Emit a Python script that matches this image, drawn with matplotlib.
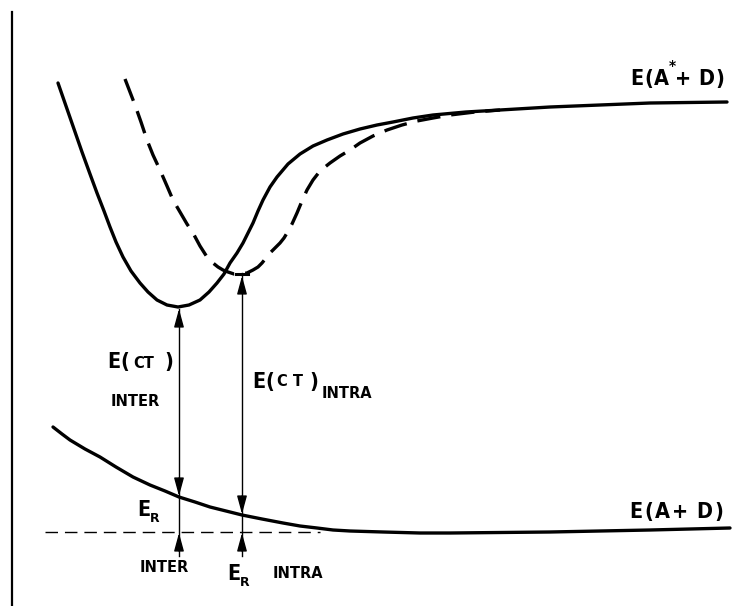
import matplotlib
matplotlib.use("Agg")
import matplotlib.pyplot as plt

# curves (x, y in image pixels, y downwards)
excited_x = [58, 66, 74, 82, 90, 97, 104, 110, 116, 123, 131, 140, 148, 157, 167, 178, 189, 200, 209, 217, 224, 230, 237, 243, 248, 253, 258, 263, 270, 277, 288, 300, 313, 327, 343, 360, 377, 393, 413, 433, 466, 500, 550, 600, 650, 727]
excited_y = [83, 106, 129, 152, 174, 193, 211, 227, 242, 257, 271, 283, 292, 300, 305, 307, 305, 300, 292, 283, 274, 263, 253, 243, 233, 223, 211, 200, 187, 177, 164, 154, 146, 140, 134, 129, 125, 122, 118, 115, 112, 110, 107, 105, 103, 102]

intra_x = [125, 130, 135, 141, 147, 153, 160, 167, 173, 180, 187, 193, 200, 207, 213, 218, 223, 228, 234, 240, 247, 253, 258, 262, 266, 270, 275, 280, 284, 287, 292, 297, 302, 307, 313, 320, 330, 340, 350, 360, 373, 387, 402, 417, 433, 450, 475, 500]
intra_y = [79, 92, 105, 122, 140, 155, 170, 186, 200, 212, 224, 233, 246, 257, 263, 267, 270, 272, 274, 274, 273, 270, 267, 263, 258, 253, 248, 243, 238, 233, 224, 213, 201, 190, 180, 171, 163, 156, 150, 143, 136, 130, 125, 121, 118, 115, 112, 110]

ground_x = [53, 62, 70, 85, 100, 116, 133, 150, 165, 179, 195, 210, 226, 242, 262, 283, 300, 317, 333, 350, 383, 420, 450, 550, 650, 730]
ground_y = [427, 434, 440, 449, 457, 467, 477, 485, 491, 497, 502, 507, 511, 515, 519, 523, 526, 528, 530, 531, 532, 533, 533, 532, 530, 528]

baseline_x = [45, 320]
baseline_y = [532, 532]

inter_x = 179
intra_arrow_x = 242

plt.rcParams['font.family'] = ['DejaVu Sans']

fig = plt.figure(figsize=(7.51, 6.06), dpi=100)
ax = fig.add_axes([0, 0, 1, 1])
ax.set_xlim(0, 751)
ax.set_ylim(606, 0)
ax.axis('off')

# frame line on the left
ax.plot([12, 12], [12, 606], color='black', lw=1.6)

ax.plot(excited_x, excited_y, color='black', lw=2.4, solid_capstyle='round', solid_joinstyle='round')
ax.plot(intra_x, intra_y, color='black', lw=2.4, dashes=(7, 3.3), dash_joinstyle='round')
ax.plot(ground_x, ground_y, color='black', lw=2.4, solid_capstyle='round', solid_joinstyle='round')
ax.plot(baseline_x, baseline_y, color='black', lw=1.0, dashes=(9, 5))

# vertical transitions
ax.plot([inter_x, inter_x], [309, 556], color='black', lw=1.0)
ax.plot([intra_arrow_x, intra_arrow_x], [273, 556], color='black', lw=1.0)
ax.plot([intra_arrow_x - 6, intra_arrow_x + 6], [274, 274], color='black', lw=2.2)


def head(x, tip, tail):
    ax.annotate('', xy=(x, tip), xytext=(x, tail),
                arrowprops=dict(arrowstyle='-|>,head_length=1.1,head_width=0.3',
                                color='black', lw=1.0, shrinkA=0, shrinkB=0))


head(inter_x, 309, 326)
head(inter_x, 496, 478)
head(inter_x, 533, 551)
head(intra_arrow_x, 276, 293)
head(intra_arrow_x, 514, 496)
head(intra_arrow_x, 533, 551)

big = dict(fontsize=15.5, fontweight='bold', fontstretch='condensed', color='black',
           va='center', ha='center')
small = dict(fontsize=10.5, fontweight='bold', color='black', va='center', ha='left')
sub = dict(fontsize=9, fontweight='bold', color='black', va='center', ha='left')


def spaced(chars, xs, y, **kw):
    for c, x in zip(chars, xs):
        ax.text(x, y, c, **kw)


spaced(['E', '(', 'A', '+', 'D', ')'], [637, 649, 661, 683, 706, 720], 79, **big)
ax.text(672, 66, '*', fontsize=10, fontweight='bold', va='center', ha='center')
spaced(['E', '(', 'A', '+', 'D', ')'], [636, 649, 662, 680, 704, 719], 512, **big)

spaced(['E', '(', ')'], [114, 125, 169], 362, **big)
ax.text(133, 363, 'CT', **small)
ax.text(111, 402, 'INTER', **small)

spaced(['E', '(', ')'], [259, 270, 314], 382, **big)
ax.text(277, 382, 'C T', **small)
ax.text(322, 393, 'INTRA', **small)

ax.text(144, 510, 'E', **big)
ax.text(150, 518, 'R', **sub)
ax.text(140, 567, 'INTER', **small)

ax.text(234, 574, 'E', **big)
ax.text(240, 583, 'R', **sub)
ax.text(273, 574, 'INTRA', **small)

fig.savefig('out.png', dpi=100)
